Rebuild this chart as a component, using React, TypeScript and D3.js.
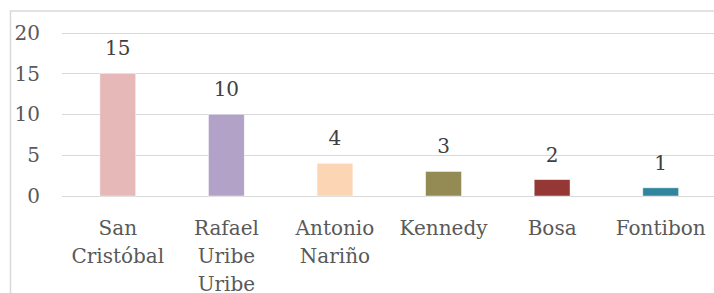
import React from "react";
import * as d3 from "d3";

const categories: string[] = ["San Cristóbal", "Rafael Uribe Uribe", "Antonio Nariño", "Kennedy", "Bosa", "Fontibon"];
const values: number[] = [15, 10, 4, 3, 2, 1];
const barColors: string[] = ["#E6B9B8", "#B3A2C7", "#FCD5B5", "#948A54", "#953735", "#31859C"];
const yTicks: number[] = [0, 5, 10, 15, 20];

const FONT = "'DejaVu Serif', serif";

const App = ({
  width = 714,
  height = 293,
  marginTop = 32.5,
  marginRight = -1,
  marginBottom = 97,
  marginLeft = 63.5,
}: {
  width?: number;
  height?: number;
  marginTop?: number;
  marginRight?: number;
  marginBottom?: number;
  marginLeft?: number;
}): React.JSX.Element => {
  const x = d3.scaleBand<string>(categories, [marginLeft, width - marginRight]).paddingInner(0.67).paddingOuter(0.335);
  const y = d3.scaleLinear([0, 20], [height - marginBottom, marginTop]);

  return (
    <div style={{ position: "absolute", left: 0, top: 0 }}>
      <svg width={width} height={height} style={{ display: "block" }}>
        <rect x={0} y={0} width={width} height={height} fill="#fff" />
        {/* chart frame */}
        <rect x={10.5} y={11} width={width + 10} height={height + 10} fill="none" stroke="#D9D9D9" strokeWidth={1.5} />
        <g stroke="#D9D9D9" strokeWidth={1}>
          {yTicks.map((t) => (
            <line key={t} x1={62} x2={width} y1={Math.round(y(t)) + 0.5} y2={Math.round(y(t)) + 0.5} />
          ))}
        </g>
        <g fontFamily={FONT} fontSize={20} fill="#595959" textAnchor="end">
          {yTicks.map((t) => (
            <text key={t} x={40} y={y(t)} dy="0.36em">
              {t}
            </text>
          ))}
        </g>
        <g>
          {categories.map((c, i) => (
            <rect
              key={c}
              x={x(c)}
              y={y(values[i])}
              width={x.bandwidth()}
              height={y(0) - y(values[i])}
              fill={barColors[i]}
              stroke="#fff"
              strokeOpacity={0.6}
              strokeWidth={0.75}
            />
          ))}
        </g>
        <g fontFamily={FONT} fontSize={20} fill="#404040" textAnchor="middle">
          {categories.map((c, i) => (
            <text key={c} x={(x(c) as number) + x.bandwidth() / 2} y={y(values[i]) - 18}>
              {values[i]}
            </text>
          ))}
        </g>
        <g fontFamily={FONT} fontSize={20} fill="#595959" textAnchor="middle">
          {categories.map((c) => (
            <text key={c} x={(x(c) as number) + x.bandwidth() / 2} y={235}>
              {c.split(" ").map((w, j) => (
                <tspan key={j} x={(x(c) as number) + x.bandwidth() / 2} dy={j === 0 ? 0 : 28}>
                  {w}
                </tspan>
              ))}
            </text>
          ))}
        </g>
      </svg>
    </div>
  );
};

export default App;
